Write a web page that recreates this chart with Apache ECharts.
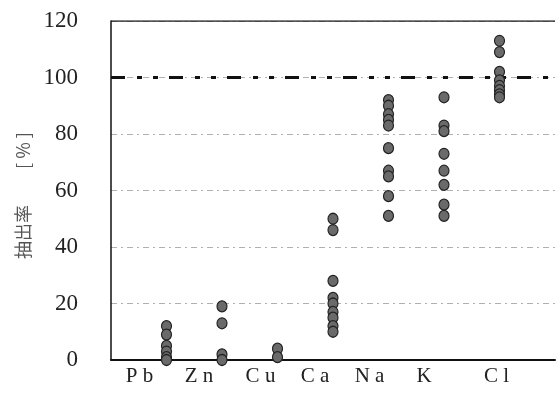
<!DOCTYPE html>
<html>
<head>
<meta charset="utf-8">
<script src="https://cdn.jsdelivr.net/npm/echarts@6/dist/echarts.min.js"></script>
<style>html,body{margin:0;padding:0;background:#fff}#c{width:558px;height:406px}</style>
</head>
<body>
<div id="c"></div>
<script>
// ---- data ----
const categories = ['P b', 'Z n', 'C u', 'C a', 'N a', 'K', 'C l'];
const pb = [12, 9, 5, 3, 1, 0];
const zn = [19, 13, 2, 0];
const cu = [4, 1];
const ca = [50, 46, 28, 22, 20, 17, 15, 12, 10];
const na = [92, 90, 87, 85, 83, 75, 67, 65, 58, 51];
const k  = [93, 83, 81, 73, 67, 62, 55, 51];
const cl = [113, 109, 102, 99, 97, 95.5, 94, 93];
const yTicks = [0, 20, 40, 60, 80, 100, 120];
const referenceLevel = 100;
const yName = '抽出率\u3000\u3000[ % ]';

// ---- build ----
const groups = [pb, zn, cu, ca, na, k, cl];
const points = [];
groups.forEach((g, i) => g.forEach(v => points.push([i + 1, v])));
const yMax = yTicks[yTicks.length - 1];
const xMax = categories.length + 1;

// label horizontal shifts (style only)
const labelShift = [27, 23, 17, 18, 19, 20, 3];
const rich = {};
labelShift.forEach((s, i) => {
  rich['l' + i] = {fontFamily: 'Liberation Serif', fontSize: 21, color: '#222', padding: [0, s * 2, 0, 0]};
});

const chart = echarts.init(document.getElementById('c'), null, {renderer: 'canvas'});
chart.setOption({
  animation: false,
  grid: {left: 111, right: -4, top: 21, bottom: 46, containLabel: false},
  xAxis: {
    type: 'value', min: 0, max: xMax, interval: 1,
    axisLine: {show: true, onZero: false, lineStyle: {color: '#111', width: 2}},
    axisTick: {show: false},
    splitLine: {show: false},
    axisLabel: {
      margin: 6,
      formatter: v => (v >= 1 && v <= categories.length) ? '{l' + (v - 1) + '|' + categories[v - 1] + '}' : '',
      rich: rich
    }
  },
  yAxis: {
    type: 'value', min: yTicks[0], max: yMax, interval: 20,
    name: yName, nameLocation: 'middle', nameRotate: 90, nameGap: 79,
    nameTextStyle: {fontFamily: 'Noto Sans CJK JP', fontSize: 18, color: '#555', padding: [0, 10, 0, 0]},
    axisLine: {show: true, lineStyle: {color: '#111', width: 1.5}},
    axisTick: {show: false},
    axisLabel: {margin: 33, fontFamily: 'Liberation Serif', fontSize: 23, color: '#222'},
    splitLine: {show: true, lineStyle: {color: '#b0b0b0', width: 1, type: [6, 4, 2, 4]}}
  },
  series: [{
    type: 'line',
    data: [[0, yMax], [xMax, yMax]],
    symbol: 'none',
    lineStyle: {color: '#222', width: 1.5, type: 'solid'},
    z: 3, silent: true
  }, {
    type: 'line',
    data: [[0, referenceLevel], [xMax, referenceLevel]],
    symbol: 'none',
    lineStyle: {color: '#111', width: 3, type: [14, 12, 5, 11, 5, 11]},
    z: 3, silent: true
  }, {
    type: 'scatter',
    data: points,
    symbol: 'circle',
    symbolSize: [10, 11],
    itemStyle: {color: '#6a6a6a', borderColor: '#222', borderWidth: 1.2, opacity: 1},
    z: 5
  }]
});
</script>
</body>
</html>
